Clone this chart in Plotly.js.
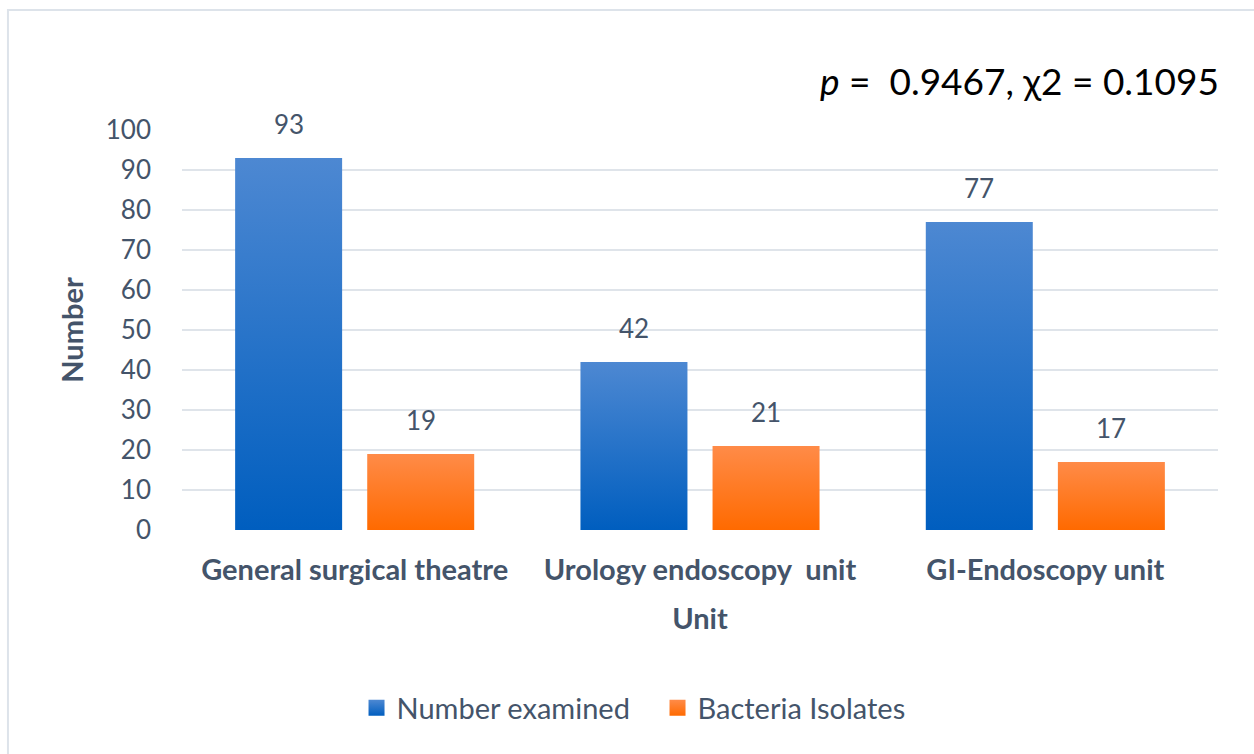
<!DOCTYPE html>
<html>
<head>
<meta charset="utf-8">
<script src="https://cdn.plot.ly/plotly-3.0.1.min.js"></script>
<style>html,body{margin:0;padding:0;background:#fff;}#chart{width:1254px;height:754px;}</style>
</head>
<body>
<div id="chart"></div>
<script>
const units = ["General surgical theatre", "Urology endoscopy  unit", "GI-Endoscopy unit"];
const numberExamined = [93, 42, 77];
const bacteriaIsolates = [19, 21, 17];
const seriesNames = ["Number examined", "Bacteria Isolates"];
const yTicks = [0, 10, 20, 30, 40, 50, 60, 70, 80, 90, 100];
const statText = "<i>p</i> =  0.9467, χ2 = 0.1095";

const txt = "#44546a";
const font = "Lato, 'Open Sans', sans-serif";

const traces = [
  {type: "bar", name: seriesNames[0], x: units, y: numberExamined, marker: {color: "#2472cc"}, hoverinfo: "none"},
  {type: "bar", name: seriesNames[1], x: units, y: bacteriaIsolates, marker: {color: "#fb7a26"}, hoverinfo: "none"}
];

const annotations = [];
[numberExamined, bacteriaIsolates].forEach((arr, k) => {
  arr.forEach((v, i) => {
    annotations.push({x: units[i], y: v, xref: "x", yref: "y", text: String(v), showarrow: false,
      xshift: k === 0 ? -66 : 66, yshift: 34, yanchor: "middle",
      font: {family: font, size: 26, color: txt}});
  });
});
annotations.push({xref: "paper", yref: "paper", x: 1.003, y: 1.125, xanchor: "right", yanchor: "middle",
  text: statText, showarrow: false, font: {family: font, size: 37, color: "#000"}});

const layout = {
  width: 1254, height: 754,
  margin: {l: 182, r: 36, t: 130, b: 224},
  paper_bgcolor: "#fff", plot_bgcolor: "#fff",
  barmode: "group", bargap: 0.235, bargroupgap: 0.19,
  font: {family: font, color: txt},
  xaxis: {
    showgrid: false, zeroline: false, showline: false, ticks: "",
    ticklabelstandoff: 20,
    tickfont: {family: font, size: 29, color: txt, weight: "bold"},
    title: {text: "<b>Unit</b>", font: {family: font, size: 29, color: txt}, standoff: 23}
  },
  yaxis: {
    range: [0, 100], tickvals: yTicks, ticks: "",
    showgrid: true, gridcolor: "#dfe4ea", gridwidth: 2,
    zeroline: false, showline: false,
    ticklabelstandoff: 30,
    tickfont: {family: font, size: 26, color: txt},
    title: {text: "<b>Number</b>", font: {family: font, size: 29, color: txt}, standoff: 13}
  },
  legend: {orientation: "h", x: 0.459, xanchor: "center", y: -0.445, yanchor: "middle",
    font: {family: font, size: 29, color: txt}, itemwidth: 30, tracegroupgap: 0, entrywidth: 256},
  annotations: annotations,
  shapes: [{type: "rect", xref: "paper", yref: "paper", x0: -0.168, x1: 1.2, y0: -1.2, y1: 1.3,
    line: {color: "#dde3ea", width: 2}, fillcolor: "rgba(0,0,0,0)", layer: "below"}]
};

Plotly.newPlot("chart", traces, layout, {displayModeBar: false, staticPlot: true}).then(gd => {
  const svg = gd.querySelector(".main-svg");
  const ns = "http://www.w3.org/2000/svg";
  let defs = svg.querySelector("defs");
  if (!defs) { defs = document.createElementNS(ns, "defs"); svg.insertBefore(defs, svg.firstChild); }
  const mk = (id, top, bottom) => {
    const g = document.createElementNS(ns, "linearGradient");
    g.setAttribute("id", id); g.setAttribute("x1", "0"); g.setAttribute("y1", "0");
    g.setAttribute("x2", "0"); g.setAttribute("y2", "1");
    [[0, top], [1, bottom]].forEach(([o, c]) => {
      const s = document.createElementNS(ns, "stop");
      s.setAttribute("offset", o); s.setAttribute("stop-color", c);
      g.appendChild(s);
    });
    defs.appendChild(g);
  };
  mk("gBlue", "#4d88d2", "#005ebf");
  mk("gOrange", "#ff8b48", "#ff6a00");
  const ids = ["gBlue", "gOrange"];
  gd.querySelectorAll(".barlayer .trace").forEach((t, i) => {
    t.querySelectorAll("path").forEach(p => p.style.fill = "url(#" + ids[i] + ")");
  });
  gd.querySelectorAll(".legend .traces").forEach((t, i) => {
    t.querySelectorAll(".legendpoints path").forEach(p => {
      p.setAttribute("d", "M8,8H-8V-8H8Z");
      p.style.fill = "url(#" + ids[i] + ")";
    });
  });
});
</script>
</body>
</html>
